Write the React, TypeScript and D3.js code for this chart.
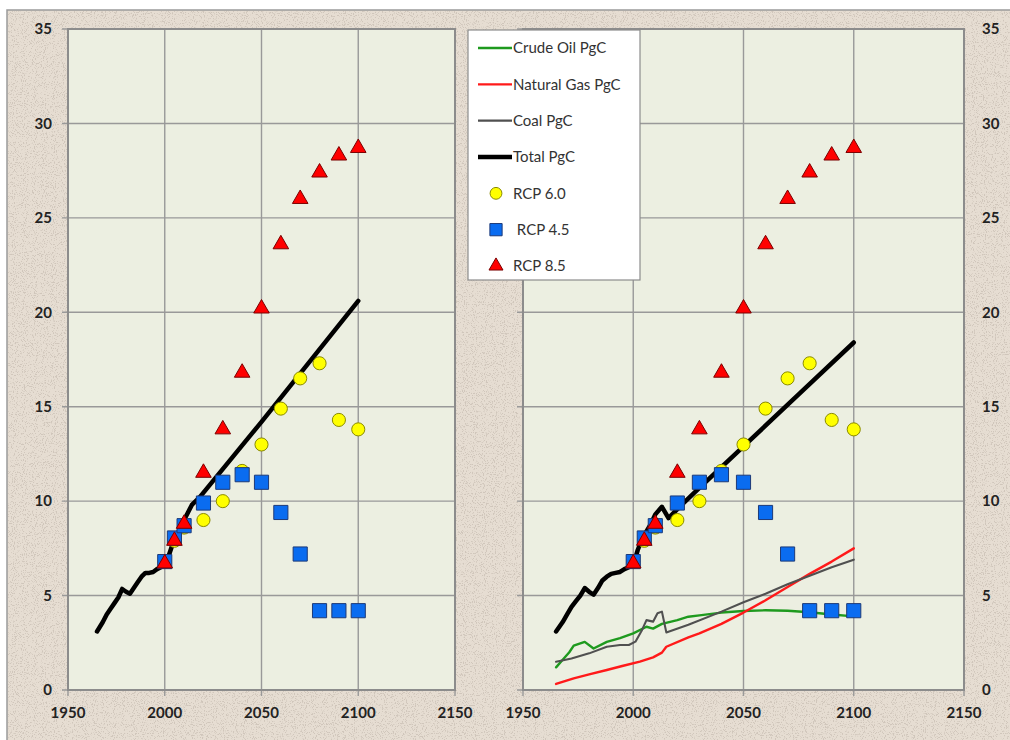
import React from 'react';
import * as d3 from 'd3';

// ---------- data ----------
const xTicks = [1950, 2000, 2050, 2100, 2150];
const yTicks = [0, 5, 10, 15, 20, 25, 30, 35];

const rcpYears = [2000, 2005, 2010, 2020, 2030, 2040, 2050, 2060, 2070, 2080, 2090, 2100];
const rcp60 = [6.8, 7.9, 8.6, 9.0, 10.0, 11.6, 13.0, 14.9, 16.5, 17.3, 14.3, 13.8];
const rcp45 = [6.8, 8.05, 8.7, 9.9, 11.0, 11.4, 11.0, 9.4, 7.2, 4.2, 4.2, 4.2];
const rcp85 = [6.7, 7.9, 8.8, 11.5, 13.8, 16.8, 20.2, 23.6, 26.0, 27.4, 28.3, 28.7];

const totalLeftYears = [1965, 1968, 1970, 1972, 1974, 1976, 1978, 1980, 1982, 1984, 1986, 1988, 1990, 1992, 1994, 1996, 1998, 2000, 2002, 2004, 2006, 2008, 2010, 2012, 2014, 2018, 2050, 2100];
const totalLeft = [3.1, 3.6, 4.0, 4.3, 4.6, 4.9, 5.35, 5.2, 5.1, 5.4, 5.7, 6.0, 6.2, 6.2, 6.25, 6.4, 6.5, 6.7, 7.1, 7.7, 8.1, 8.6, 9.0, 9.4, 9.8, 10.2, 14.2, 20.6];

const totalRightYears = [1965, 1968, 1970, 1972, 1974, 1976, 1978, 1980, 1982, 1984, 1986, 1988, 1990, 1992, 1994, 1996, 1998, 2000, 2002, 2004, 2006, 2008, 2010, 2013, 2016, 2021, 2030, 2050, 2075, 2100];
const totalRight = [3.1, 3.6, 4.0, 4.4, 4.7, 5.0, 5.4, 5.2, 5.05, 5.4, 5.8, 6.0, 6.15, 6.2, 6.25, 6.4, 6.5, 6.6, 7.4, 8.0, 8.4, 8.8, 9.3, 9.7, 9.1, 9.7, 10.7, 12.9, 15.65, 18.4];

const oilYears = [1965, 1968, 1971, 1973, 1978, 1982, 1988, 1994, 2000, 2006, 2009, 2013, 2020, 2025, 2030, 2040, 2050, 2060, 2070, 2080, 2090, 2100];
const oil = [1.2, 1.6, 2.0, 2.35, 2.55, 2.2, 2.55, 2.75, 3.0, 3.35, 3.25, 3.5, 3.7, 3.88, 3.95, 4.1, 4.18, 4.22, 4.2, 4.12, 4.0, 3.9];

const coalYears = [1965, 1972, 1980, 1988, 1994, 1998, 2001, 2004, 2006, 2009, 2011, 2013, 2015, 2025, 2040, 2050, 2060, 2070, 2080, 2090, 2100];
const coal = [1.5, 1.67, 1.94, 2.29, 2.38, 2.38, 2.56, 3.18, 3.7, 3.62, 4.06, 4.15, 3.05, 3.45, 4.15, 4.65, 5.1, 5.6, 6.05, 6.5, 6.9];

const gasYears = [1965, 1973, 1980, 1988, 1995, 2003, 2009, 2013, 2015, 2025, 2030, 2040, 2050, 2060, 2070, 2080, 2090, 2100];
const gas = [0.32, 0.62, 0.83, 1.06, 1.27, 1.5, 1.73, 1.98, 2.29, 2.79, 3.0, 3.5, 4.1, 4.75, 5.45, 6.15, 6.8, 7.5];

const legendLabels = ['Crude Oil PgC', 'Natural Gas PgC', 'Coal PgC', 'Total PgC', 'RCP 6.0', ' RCP 4.5', 'RCP 8.5'];

// ---------- styles ----------
const C = {
  oil: '#1e9a1e',
  gas: '#ff1a1a',
  coal: '#505050',
  total: '#000000',
  circleFill: '#ffff00',
  circleStroke: '#8a8a00',
  squareFill: '#0a6cf0',
  squareStroke: '#1d3a78',
  triFill: '#ff0000',
  triStroke: '#7a0000',
  plot: '#ecefe1',
  bg: '#e6ddd2',
  grid: '#999999',
  text: '#222222',
};

const FONT = 'Lato, "Open Sans", sans-serif';

const zip = (xs: number[], ys: number[]) => xs.map((x, i) => [x, ys[i]] as [number, number]);

type Panel = {
  x0: number; x1: number; y0: number; y1: number;
  side: 'left' | 'right';
  total: [number, number][];
  components: boolean;
};

function PanelView({ p }: { p: Panel }) {
  const x = d3.scaleLinear().domain([1950, 2150]).range([p.x0, p.x1]);
  const y = d3.scaleLinear().domain([0, 35]).range([p.y1, p.y0]);
  const line = d3.line<[number, number]>().x(d => x(d[0])).y(d => y(d[1]));
  const circle = d3.symbol().type(d3.symbolCircle).size(135)();
  const square = d3.symbol().type(d3.symbolSquare).size(200)();
  const tri = d3.symbol().type(d3.symbolTriangle).size(105)();

  return (
    <g>
      <rect x={p.x0} y={p.y0} width={p.x1 - p.x0} height={p.y1 - p.y0} fill={C.plot} />
      {yTicks.map(t => (
        <line key={'gy' + t} x1={p.x0 - 6} x2={p.x1} y1={y(t)} y2={y(t)} stroke={C.grid} strokeWidth={1.4} />
      ))}
      {xTicks.map(t => (
        <line key={'gx' + t} x1={x(t)} x2={x(t)} y1={p.y0} y2={p.y1 + 6} stroke={C.grid} strokeWidth={1.4} />
      ))}
      <rect x={p.x0} y={p.y0} width={p.x1 - p.x0} height={p.y1 - p.y0} fill="none" stroke="#8c8c8c" strokeWidth={2} />
      {yTicks.map(t => (
        <text key={'ty' + t}
          x={p.side === 'left' ? p.x0 - 16 : p.x1 + 18}
          y={y(t)} dy="0.35em"
          textAnchor={p.side === 'left' ? 'end' : 'start'}
          fontFamily={FONT} fontWeight={700} fontSize={15} fill={C.text}>{t}</text>
      ))}
      {xTicks.map(t => (
        <text key={'tx' + t} x={x(t)} y={p.y1 + 23} dy="0.35em" textAnchor="middle"
          fontFamily={FONT} fontWeight={700} fontSize={15} fill={C.text}>{t}</text>
      ))}
      {p.components && (
        <g fill="none" strokeLinejoin="round" strokeLinecap="round">
          <path d={line(zip(oilYears, oil)) || ''} stroke={C.oil} strokeWidth={2.4} />
          <path d={line(zip(gasYears, gas)) || ''} stroke={C.gas} strokeWidth={2.4} />
          <path d={line(zip(coalYears, coal)) || ''} stroke={C.coal} strokeWidth={2.1} />
        </g>
      )}
      <path d={line(p.total) || ''} fill="none" stroke={C.total} strokeWidth={4.5} strokeLinejoin="round" strokeLinecap="round" />
      {rcpYears.map((yr, i) => (
        <path key={'c' + yr} d={circle} transform={`translate(${x(yr)},${y(rcp60[i])})`} fill={C.circleFill} stroke={C.circleStroke} strokeWidth={1} />
      ))}
      {rcpYears.map((yr, i) => (
        <path key={'s' + yr} d={square} transform={`translate(${x(yr)},${y(rcp45[i])})`} fill={C.squareFill} stroke={C.squareStroke} strokeWidth={1} />
      ))}
      {rcpYears.map((yr, i) => (
        <path key={'t' + yr} d={tri} transform={`translate(${x(yr)},${y(rcp85[i])})`} fill={C.triFill} stroke={C.triStroke} strokeWidth={1} />
      ))}
    </g>
  );
}

function Legend() {
  const x0 = 468, y0 = 30, w = 172, h = 250;
  const rowY = d3.scaleLinear().domain([0, 6]).range([48, 266]);
  const circle = d3.symbol().type(d3.symbolCircle).size(110)();
  const square = d3.symbol().type(d3.symbolSquare).size(150)();
  const tri = d3.symbol().type(d3.symbolTriangle).size(85)();
  const lineStyles = [
    { c: C.oil, w: 2.4 },
    { c: C.gas, w: 2.4 },
    { c: C.coal, w: 2.1 },
    { c: C.total, w: 4.5 },
  ];
  return (
    <g>
      <rect x={x0} y={y0} width={w} height={h} fill="#ffffff" stroke="#8c8c8c" strokeWidth={1.2} />
      {lineStyles.map((s, i) => (
        <line key={'l' + i} x1={478} x2={512} y1={rowY(i)} y2={rowY(i)} stroke={s.c} strokeWidth={s.w} />
      ))}
      <path d={circle} transform={`translate(496,${rowY(4)})`} fill={C.circleFill} stroke={C.circleStroke} />
      <path d={square} transform={`translate(496,${rowY(5)})`} fill={C.squareFill} stroke={C.squareStroke} />
      <path d={tri} transform={`translate(496,${rowY(6)})`} fill={C.triFill} stroke={C.triStroke} />
      {legendLabels.map((t, i) => (
        <text key={'lt' + i} x={513} y={rowY(i)} dy="0.35em" fontFamily={FONT} fontSize={15}
          fill="#333" style={{ whiteSpace: 'pre' }}>{t}</text>
      ))}
    </g>
  );
}

export default function App() {
  const left: Panel = { x0: 68, x1: 455, y0: 29, y1: 690, side: 'left', total: zip(totalLeftYears, totalLeft), components: false };
  const right: Panel = { x0: 523, x1: 964, y0: 29, y1: 690, side: 'right', total: zip(totalRightYears, totalRight), components: true };
  return (
    <svg width={1010} height={740} style={{ position: 'absolute', left: 0, top: 0 }} xmlns="http://www.w3.org/2000/svg">
      <defs>
        <filter id="speckle" x="0" y="0" width="100%" height="100%">
          <feTurbulence type="fractalNoise" baseFrequency="0.9" numOctaves={2} seed={3} result="n" />
          <feColorMatrix in="n" type="matrix"
            values="0 0 0 0 0.5  0 0 0 0 0.44  0 0 0 0 0.38  8 0 0 0 -4.4" />
        </filter>
      </defs>
      <rect x={0} y={0} width={1010} height={740} fill="#ffffff" />
      <rect x={7} y={10} width={1010} height={740} fill={C.bg} stroke="#9a9a9a" strokeWidth={1.5} />
      <rect x={8} y={11} width={1002} height={729} filter="url(#speckle)" opacity={0.5} />
      <PanelView p={left} />
      <PanelView p={right} />
      <Legend />
    </svg>
  );
}
